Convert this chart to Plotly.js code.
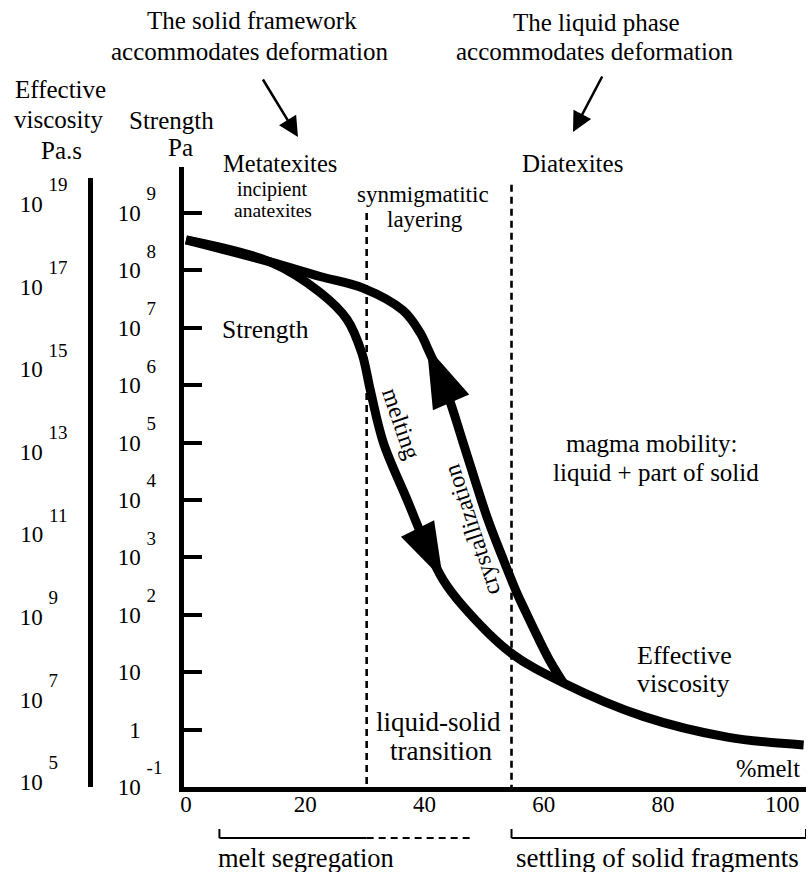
<!DOCTYPE html>
<html><head><meta charset="utf-8">
<script src="https://cdn.plot.ly/plotly-3.0.1.min.js"></script>
<style>body{margin:0;background:#fff}</style>
</head><body><div id="chart" style="width:811px;height:872px"></div>
<script>
// ---- data ----
// melting path (heating): % melt vs strength (Pa)
const meltingX        = [0, 14.1, 22.5, 27.0, 29.5, 30.9, 33.1, 37.1, 40.4, 43.1, 46.5, 54.4, 63.3, 76.7, 90.8, 103.6];
const meltingStrength = [3.4e8, 1.4e8, 4.1e7, 1.4e7, 3.6e6, 8.3e5, 1.0e5, 1.0e4, 1.5e3, 4.1e2, 1.4e2, 22, 6.5, 1.7, 0.74, 0.54];
// crystallization path (cooling), joining the melting path near 63 % melt
const crystX          = [0, 14.1, 22.5, 29.7, 36.4, 39.3, 40.4, 43.8, 46.5, 50.5, 53.2, 55.5, 56.9, 58.9, 61.0, 63.3];
const crystStrength   = [3.4e8, 1.4e8, 7.8e7, 4.9e7, 2.0e7, 8.1e6, 4.7e6, 7.2e5, 9.8e4, 5.0e3, 930, 240, 117, 43, 16, 6.5];
// arrow heads: index of the point the arrow comes from and index of its tip
const meltingArrow = [8, 9];
const crystArrow   = [7, 6];
// zone boundaries (% melt) and top of dashed lines (Pa)
const zoneBounds   = [30.3, 54.6];
const zoneTops     = [1e9, 3.1e9];
// brackets below the axis (% melt)
const segregationSolid  = [5.6, 30.3];
const segregationDashed = [30.3, 47.7];
const settlingRange     = [54.6, 104];
// axis ticks
const xTicks = [0, 20, 40, 60, 80, 100];
const strengthExp  = [-1, 0, 1, 2, 3, 4, 5, 6, 7, 8, 9];
const viscosityExp = [5, 7, 9, 11, 13, 15, 17, 19];

// ---- layout helpers ----
const L = 90, R = 806, T = 167, B = 787;
const W = R - L, H = B - T;
const pX = x => (x - L) / W;
const pY = y => (B - y) / H;
const FONT = 'Liberation Serif, Times New Roman, serif';

const SUPSTYLE = 'font-size:19px;baseline-shift:11px';
const sup = e => '<sup><span style="' + SUPSTYLE + '">' + e + '</span></sup>';
const white = s => '<span style="color:white">' + s + '</span>';
const strengthText = strengthExp.map(e => {
  if (e === 0) return '1' + white('\u00a0' + sup('0-'));
  if (e === 1) return '10' + white('\u00a0' + sup('0-'));
  if (e === -1) return '10\u00a0' + sup(e);
  return '10\u00a0' + sup(e + white('-'));
});
const viscText = viscosityExp.map(e =>
  '10\u00a0' + sup(e < 10 ? e + white('0') : e));

const line = {color: 'black', width: 9, shape: 'spline', smoothing: 1};
const arrowMarker = size => ({symbol: 'arrow', size: [0, size], angleref: 'previous',
  color: 'black', opacity: 1, line: {width: 0}});
const traces = [
  {x: meltingX, y: meltingStrength, mode: 'lines', line: line, hoverinfo: 'skip'},
  {x: crystX, y: crystStrength, mode: 'lines', line: line, hoverinfo: 'skip'},
  {x: meltingArrow.map(i => meltingX[i]), y: meltingArrow.map(i => meltingStrength[i]),
   mode: 'markers', marker: arrowMarker(60)},
  {x: crystArrow.map(i => crystX[i]), y: crystArrow.map(i => crystStrength[i]),
   mode: 'markers', marker: arrowMarker(64)},
];
zoneBounds.forEach((b, i) => traces.push({
  x: [b, b], y: [zoneTops[i], 0.1], mode: 'lines', cliponaxis: false,
  line: {color: 'black', width: 2.6, dash: '7px,5px'}, hoverinfo: 'skip'}));
traces.push({x: [], y: [], yaxis: 'y2', mode: 'lines'});

const ann = [];
function txt(s, cx, cy, size, angle) {
  ann.push({text: s, x: pX(cx), y: pY(cy), xref: 'paper', yref: 'paper',
    xanchor: 'center', yanchor: 'middle', showarrow: false,
    textangle: angle || 0, font: {family: FONT, size: size, color: 'black'}});
}
txt('The solid framework', 252, 21, 25);
txt('accommodates deformation', 249, 52, 25);
txt('The liquid phase', 596, 22, 25);
txt('accommodates deformation', 594, 52, 25);
txt('Effective', 60, 90, 25);
txt('viscosity', 58, 120, 25);
txt('Pa.s', 61, 150, 25);
txt('Strength', 171, 121, 25);
txt('Pa', 180, 147, 25);
txt('Metatexites', 280, 164, 24.5);
txt('Diatexites', 572, 164, 25);
txt('incipient', 272, 189, 20);
txt('anatexites', 273, 211, 19.5);
txt('synmigmatitic', 423, 194, 23);
txt('layering', 425, 220, 23);
txt('Strength', 265, 329, 25.5);
txt('melting', 401, 423, 24, 71);
txt('crystallization', 472, 530, 24, -108);
txt('magma mobility:', 652, 443, 25);
txt('liquid + part of solid', 656, 472, 25);
txt('liquid-solid', 438, 722, 27);
txt('transition', 441, 751, 27);
txt('Effective', 684, 655, 26);
txt('viscosity', 683, 683, 26);
txt('%melt', 768, 768, 24.5);
txt('melt segregation', 306, 858, 26.5);
txt('settling of solid fragments', 657, 858, 27);
// pointer arrows
ann.push({text: '', x: pX(298), y: pY(137), xref: 'paper', yref: 'paper', ax: -36, ay: -59,
  showarrow: true, arrowhead: 2, arrowsize: 1.6, arrowwidth: 2.5, arrowcolor: 'black'});
ann.push({text: '', x: pX(573), y: pY(132), xref: 'paper', yref: 'paper', ax: 30, ay: -57,
  showarrow: true, arrowhead: 2, arrowsize: 1.6, arrowwidth: 2.5, arrowcolor: 'black'});

const yBr = pY(838), yBrTop = pY(829);
const brLine = {color: 'black', width: 2};
const shapes = [
  {type: 'line', xref: 'x', yref: 'paper', x0: segregationSolid[0], x1: segregationSolid[1], y0: yBr, y1: yBr, line: brLine},
  {type: 'line', xref: 'x', yref: 'paper', x0: segregationSolid[0], x1: segregationSolid[0], y0: yBr, y1: yBrTop, line: brLine},
  {type: 'line', xref: 'x', yref: 'paper', x0: segregationDashed[0], x1: segregationDashed[1], y0: yBr, y1: yBr, line: {color: 'black', width: 2, dash: '7px,5px'}},
  {type: 'line', xref: 'x', yref: 'paper', x0: settlingRange[0], x1: settlingRange[1], y0: yBr, y1: yBr, line: brLine},
  {type: 'line', xref: 'x', yref: 'paper', x0: settlingRange[0], x1: settlingRange[0], y0: yBr, y1: yBrTop, line: brLine},
  {type: 'line', xref: 'x', yref: 'paper', x0: settlingRange[1], x1: settlingRange[1], y0: yBr, y1: yBrTop, line: brLine},
];

const tickFont = {family: FONT, size: 23, color: 'black'};
const layout = {
  width: 811, height: 872,
  margin: {l: L, r: 811 - R, t: T, b: 872 - B, pad: 0},
  paper_bgcolor: 'white', plot_bgcolor: 'rgba(0,0,0,0)',
  showlegend: false,
  xaxis: {domain: [pX(184), 1], range: [-0.34, 104], anchor: 'y',
    showline: true, linewidth: 5, linecolor: 'black', showgrid: false, zeroline: false,
    ticks: '', tickvals: xTicks, ticktext: xTicks.map(String), tickfont: tickFont,
    ticklabelstandoff: -8, fixedrange: true},
  yaxis: {type: 'log', range: [-1, 9.80], anchor: 'x',
    showline: true, linewidth: 5, linecolor: 'black', showgrid: false, zeroline: false,
    ticks: 'inside', ticklen: 18, tickwidth: 4, tickcolor: 'black',
    tickvals: strengthExp.map(e => Math.pow(10, e)), ticktext: strengthText,
    tickfont: tickFont, ticklabelstandoff: 12, fixedrange: true},
  yaxis2: {type: 'log', range: [4.88, 19.63], domain: [0, (B - 178) / H],
    anchor: 'free', position: 0, side: 'left',
    showline: true, linewidth: 5, linecolor: 'black', showgrid: false, zeroline: false,
    ticks: '', tickvals: viscosityExp.map(e => Math.pow(10, e)), ticktext: viscText,
    tickfont: tickFont, ticklabelstandoff: 16, fixedrange: true},
  annotations: ann,
  shapes: shapes,
};
Plotly.newPlot('chart', traces, layout, {displayModeBar: false, staticPlot: true});
</script></body></html>
